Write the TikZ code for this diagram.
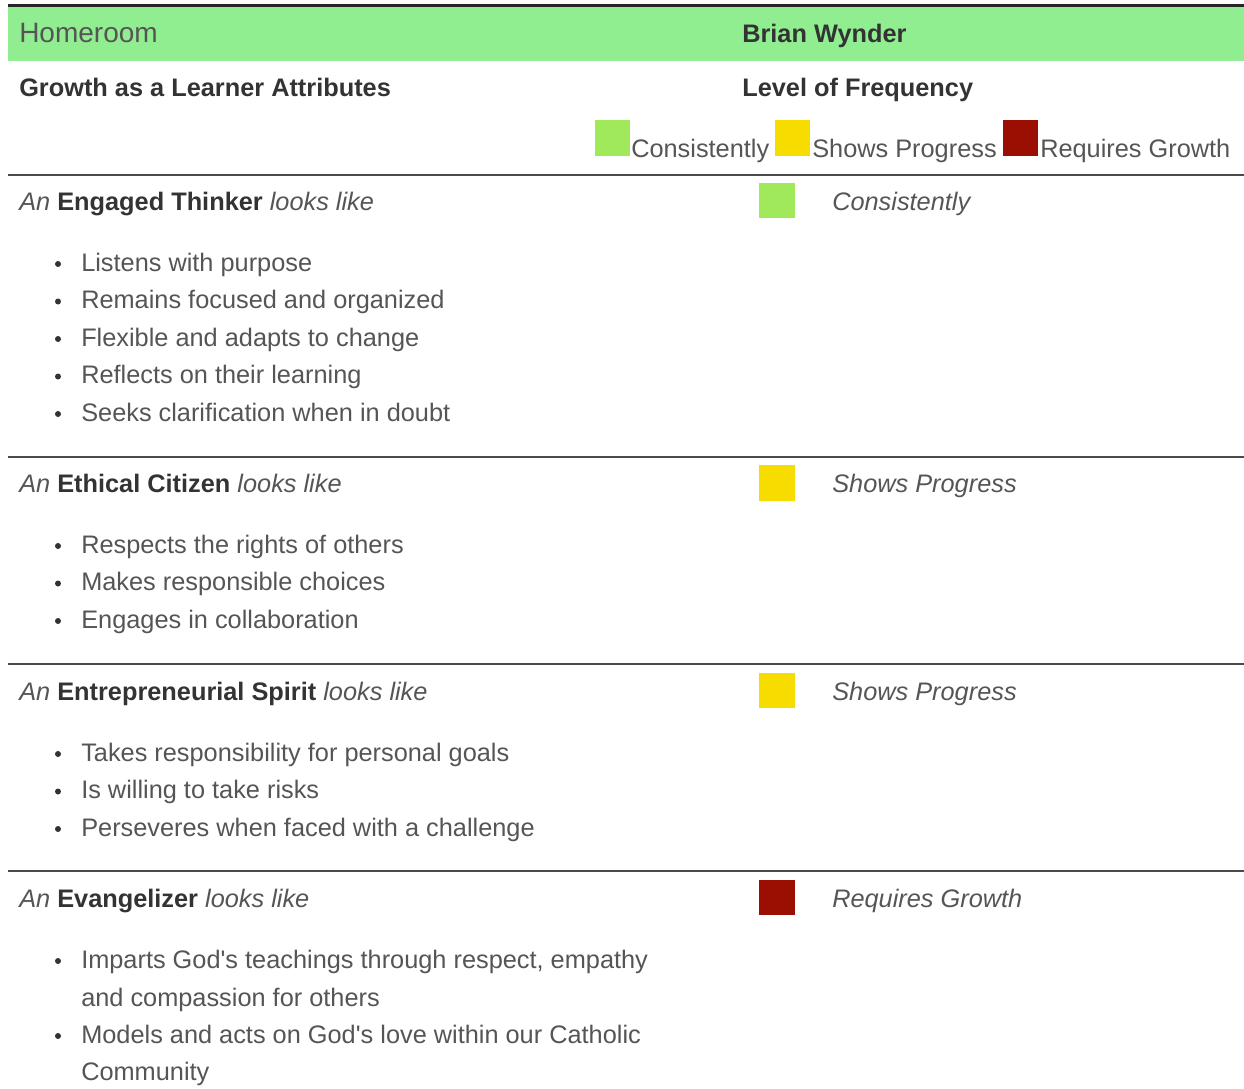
\documentclass[tikz,border=0pt]{standalone}
\usepackage{fontspec}
\setmainfont{Liberation Sans}
\usepackage{tikz}
\usetikzlibrary{positioning}

\definecolor{band}{HTML}{90EE90}
\definecolor{cons}{HTML}{A0E95A}
\definecolor{prog}{HTML}{F7DC00}
\definecolor{grow}{HTML}{9A0F02}
\definecolor{txt}{HTML}{555555}
\definecolor{dark}{HTML}{333333}
\definecolor{rulec}{HTML}{4A4A4A}

\tikzset{
	lbl/.style={anchor=base west, inner sep=0pt, text=txt, font=\fontsize{19}{23}\selectfont},
	hd/.style={lbl, text=dark, font=\fontsize{19}{23}\selectfont\bfseries},
	lvl/.style={lbl, font=\fontsize{19}{23}\selectfont\itshape},
	sq/.style={minimum width=26.4pt, minimum height=26.4pt, inner sep=0pt},
	rowline/.style={rulec, line width=1.5pt}
}

\begin{document}
\begin{tikzpicture}[x=0.75pt,y=-0.75pt]
	\useasboundingbox (0,0) rectangle (1244,1088);
	% header band
	\draw[black!85, line width=2.4pt] (8,5.5) -- (1244,5.5);
	\fill[band] (8,7.5) rectangle (1244,61);
	\node[lbl, font=\fontsize{21}{25}\selectfont] (room) at (19,43) {Homeroom};
	\node[hd] (student) at (742,43) {Brian Wynder};
	\node[hd] (attr) at (19,96) {Growth as a Learner Attributes};
	\node[hd] (freq) at (742,96) {Level of Frequency};
	% legend
	\node[sq, fill=cons, minimum height=27pt] (k1) at (612.5,138) {};
	\node[lbl] (k1t) at (631,157) {Consistently};
	\node[sq, fill=prog, minimum height=27pt] (k2) at (792.5,138) {};
	\node[lbl] (k2t) at (812,157) {Shows Progress};
	\node[sq, fill=grow, minimum height=27pt] (k3) at (1020.5,138) {};
	\node[lbl] (k3t) at (1040,157) {Requires Growth};
	\draw[rowline] (8,175) -- (1244,175);

	% engaged thinker
	\node[lbl] (r1) at (19,210) {\itshape An \upshape\bfseries\color{dark}Engaged Thinker \mdseries\itshape\color{txt}looks like};
	\node[sq, fill=cons] (s1) at (777,200.5) {};
	\node[lvl] (l1) at (832,210) {Consistently};
	\foreach \t [count=\i from 0] in {Listens with purpose, Remains focused and organized, Flexible and adapts to change, Reflects on their learning, Seeks clarification when in doubt}
	{ \fill[dark] (58,264+37.5*\i) circle (3);
	  \node[lbl] (a\i) at (81,271+37.5*\i) {\t};
	}
	\draw[rowline] (8,457) -- (1244,457);

	% ethical citizen
	\node[lbl] (r2) at (19,492) {\itshape An \upshape\bfseries\color{dark}Ethical Citizen \mdseries\itshape\color{txt}looks like};
	\node[sq, fill=prog] (s2) at (777,483) {};
	\node[lvl] (l2) at (832,492) {Shows Progress};
	\foreach \t [count=\i from 0] in {Respects the rights of others, Makes responsible choices, Engages in collaboration}
	{ \fill[dark] (58,546+37.5*\i) circle (3);
	  \node[lbl] (b\i) at (81,553+37.5*\i) {\t};
	}
	\draw[rowline] (8,664) -- (1244,664);

	% entrepreneurial spirit
	\node[lbl] (r3) at (19,700) {\itshape An \upshape\bfseries\color{dark}Entrepreneurial Spirit \mdseries\itshape\color{txt}looks like};
	\node[sq, fill=prog] (s3) at (777,690.5) {};
	\node[lvl] (l3) at (832,700) {Shows Progress};
	\foreach \t [count=\i from 0] in {Takes responsibility for personal goals, Is willing to take risks, Perseveres when faced with a challenge}
	{ \fill[dark] (58,754+37.5*\i) circle (3);
	  \node[lbl] (c\i) at (81,761+37.5*\i) {\t};
	}
	\draw[rowline] (8,871) -- (1244,871);

	% evangelizer
	\node[lbl] (r4) at (19,907) {\itshape An \upshape\bfseries\color{dark}Evangelizer \mdseries\itshape\color{txt}looks like};
	\node[sq, fill=grow] (s4) at (777,897.5) {};
	\node[lvl] (l4) at (832,907) {Requires Growth};
	\fill[dark] (58,961) circle (3);
	\node[lbl] (d0) at (81,968) {Imparts God\textquotesingle s teachings through respect, empathy};
	\node[lbl] (d0b) at (81,1006) {and compassion for others};
	\fill[dark] (58,1036) circle (3);
	\node[lbl] (d1) at (81,1043) {Models and acts on God\textquotesingle s love within our Catholic};
	\node[lbl] (d1b) at (81,1080) {Community};
\end{tikzpicture}
\end{document}
